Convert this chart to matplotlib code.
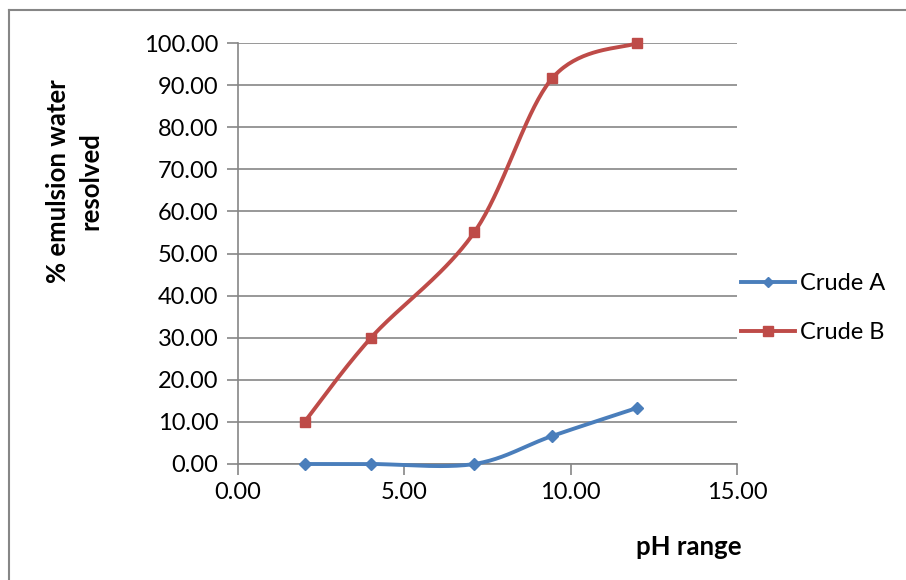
import numpy as np
import matplotlib
matplotlib.use("Agg")
import matplotlib.pyplot as plt
from matplotlib.lines import Line2D

ph = [2.0, 4.0, 7.1, 9.45, 12.0]
crude_a = [0.0, 0.0, 0.0, 6.67, 13.33]
crude_b = [10.0, 30.0, 55.0, 91.67, 100.0]
series_names = ["Crude A", "Crude B"]
x_ticks = [0, 5, 10, 15]
y_ticks = list(range(0, 101, 10))

plt.rcParams['font.family'] = ['Lato', 'DejaVu Sans']


def smooth(xs, ys, n=40):
    """Catmull-Rom style smoothing through every data point (Excel 'smoothed line')."""
    p = np.column_stack([xs, ys]).astype(float)
    p = np.vstack([p[0], p, p[-1]])
    out = []
    t = np.linspace(0, 1, n)[:, None]
    for i in range(1, len(p) - 2):
        p0, p1, p2, p3 = p[i - 1], p[i], p[i + 1], p[i + 2]
        c1 = p1 + (p2 - p0) / 6.0
        c2 = p2 - (p3 - p1) / 6.0
        seg = ((1 - t) ** 3) * p1 + 3 * ((1 - t) ** 2) * t * c1 + 3 * (1 - t) * t ** 2 * c2 + t ** 3 * p2
        out.append(seg if i == 1 else seg[1:])
    seg = np.vstack(out)
    return seg[:, 0], seg[:, 1]


fig = plt.figure(figsize=(9.06, 5.80), dpi=100)
ax = fig.add_axes([238 / 906, 1 - 464 / 580, (737 - 238) / 906, (464 - 43) / 580])

blue = "#4A7EBB"
red = "#BE4B48"
grid_c = "#868686"

for ys, col, mk, ms in [(crude_a, blue, "D", 6), (crude_b, red, "s", 7)]:
    sx, sy = smooth(ph, ys)
    ax.plot(sx, sy, color=col, lw=2.8, solid_capstyle="round", zorder=3, clip_on=False)
    ax.plot(ph, ys, ls="none", marker=mk, ms=ms, color=col, zorder=4, clip_on=False)

ax.set_xlim(0, 15)
ax.set_ylim(0, 100)
ax.set_xticks(x_ticks)
ax.set_yticks(y_ticks)
ax.set_xticklabels([f"{v:.2f}" for v in x_ticks])
ax.set_yticklabels([f"{v:.2f}" for v in y_ticks])
ax.yaxis.grid(True, color=grid_c, lw=1.2)
ax.set_axisbelow(True)
for s in ["top", "right"]:
    ax.spines[s].set_visible(False)
for s in ["left", "bottom"]:
    ax.spines[s].set_color(grid_c)
    ax.spines[s].set_linewidth(1.2)
ax.tick_params(axis="both", colors=grid_c, width=1.2, length=8, labelsize=17, labelcolor="black")
ax.tick_params(axis="y", pad=6)
ax.tick_params(axis="x", pad=5)

fig.text(74 / 906, 1 - 181 / 580, "% emulsion water\nresolved", rotation=90,
         ha="center", va="center", fontsize=18.5, fontweight="bold", linespacing=1.4)
fig.text(689 / 906, 1 - 547 / 580, "pH range", ha="center", va="center",
         fontsize=18.5, fontweight="bold")

handles = [Line2D([], [], color=blue, lw=2.8, marker="D", ms=5),
           Line2D([], [], color=red, lw=2.8, marker="s", ms=7)]
fig.legend(handles, series_names, loc="center left",
           bbox_to_anchor=(741 / 906, 1 - 308 / 580), frameon=False, fontsize=17,
           borderpad=0, borderaxespad=0, handlelength=2.3, handletextpad=0.2,
           labelspacing=1.2)

# outer chart border
fig.add_artist(Line2D([9 / 906, 9 / 906], [0, 1 - 10 / 580], transform=fig.transFigure, color=grid_c, lw=1.5))
fig.add_artist(Line2D([9 / 906, 1], [1 - 10 / 580, 1 - 10 / 580], transform=fig.transFigure, color=grid_c, lw=1.5))

fig.savefig("out.png", dpi=100)
